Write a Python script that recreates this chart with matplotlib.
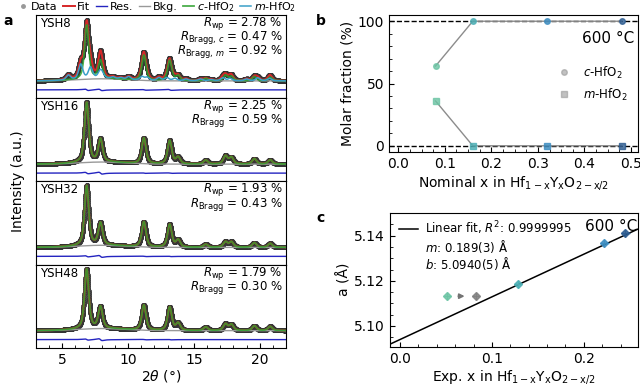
import numpy as np
import matplotlib
matplotlib.use("Agg")
import matplotlib.pyplot as plt
from matplotlib.lines import Line2D
from matplotlib.ticker import MultipleLocator

plt.rcParams['font.family'] = 'DejaVu Sans'
plt.rcParams['mathtext.fontset'] = 'dejavusans'

# ---------------- data ----------------
# panel a: peak lists read from the refined patterns (2theta, height above background)
samples = ['YSH8', 'YSH16', 'YSH32', 'YSH48']
r_texts = [
    [r'$R_{\mathrm{wp}}$ = 2.78 %', r'$R_{\mathrm{Bragg},\,c}$ = 0.47 %', r'$R_{\mathrm{Bragg},\,m}$ = 0.92 %'],
    [r'$R_{\mathrm{wp}}$ = 2.25 %', r'$R_{\mathrm{Bragg}}$ = 0.59 %'],
    [r'$R_{\mathrm{wp}}$ = 1.93 %', r'$R_{\mathrm{Bragg}}$ = 0.43 %'],
    [r'$R_{\mathrm{wp}}$ = 1.79 %', r'$R_{\mathrm{Bragg}}$ = 0.30 %'],
]
cubic_pos = [6.85, 7.90, 11.20, 13.16, 13.80, 15.90, 17.40, 17.85, 19.60, 20.80]
cubic_h = {
    'YSH8':  [0.90, 0.30, 0.42, 0.34, 0.08, 0.04, 0.09, 0.07, 0.07, 0.06],
    'YSH16': [1.00, 0.38, 0.43, 0.39, 0.11, 0.065, 0.135, 0.11, 0.09, 0.07],
    'YSH32': [1.00, 0.37, 0.42, 0.38, 0.12, 0.05, 0.09, 0.09, 0.077, 0.066],
    'YSH48': [1.00, 0.36, 0.42, 0.39, 0.12, 0.06, 0.11, 0.10, 0.08, 0.07],
}
mono_pos = [5.46, 6.40, 7.14, 7.86, 8.02, 8.85, 9.45, 10.05, 11.05, 11.45, 12.35,
            12.95, 13.55, 14.40, 15.50, 16.30, 17.20, 17.75, 19.00, 19.85, 20.75]
mono_h = [0.08, 0.25, 0.19, 0.10, 0.07, 0.03, 0.025, 0.05, 0.06, 0.05, 0.05,
          0.05, 0.04, 0.03, 0.03, 0.02, 0.05, 0.04, 0.03, 0.05, 0.04]
# residual wiggle amplitude at the cubic peaks (derivative-like)
res_amp = {
    'YSH8':  [0.03, 0.03, 0.015, 0.02, 0.0, 0.0, 0.0, 0.0, 0.0, 0.0],
    'YSH16': [0.03, 0.04, 0.01, 0.01, 0.0, 0.0, 0.0, 0.0, 0.0, 0.0],
    'YSH32': [0.025, 0.04, 0.01, 0.01, 0.0, 0.0, 0.0, 0.0, 0.0, 0.0],
    'YSH48': [0.025, 0.04, 0.01, 0.01, 0.0, 0.0, 0.0, 0.0, 0.0, 0.0],
}
fwhm = 0.38
bkg_hump = (8.0, 2.5, 0.035)   # centre, width, height of amorphous background
res_offset = -0.15

# panel b: molar fractions
x_nom = [0.08, 0.16, 0.32, 0.48]
frac_c = [64, 100, 100, 100]
frac_m = [36, 0, 0, 0]
sample_colors = ['#6cc4a4', '#4aaeb4', '#3b8cc0', '#2b5b90']

# panel c: lattice parameter
x_exp = [0.0514, 0.128, 0.2225, 0.245]
a_val = [5.1132, 5.1185, 5.1366, 5.1411]
x_err = [0.004, 0.004, 0.005, 0.005]
a_err = [0.0015, 0.0015, 0.0015, 0.0015]
x_corr = 0.0823
a_corr = 5.1132
fit_m = 0.189
fit_b = 5.0940

# ---------------- figure ----------------
fig = plt.figure(figsize=(6.4, 3.87), dpi=100)

tth = np.arange(3.0, 22.0, 0.01)


def profile(pos, h):
    out = np.zeros_like(tth)
    for p, hh in zip(pos, h):
        g = 2 * (tth - p) / fwhm
        out += hh * (0.6 / (1 + g ** 2) + 0.4 * np.exp(-np.log(2) * g ** 2))
    return out


def dprofile(pos, amp):
    out = np.zeros_like(tth)
    for p, a in zip(pos, amp):
        g = 2 * (tth - p) / fwhm
        out += -a * g / (1 + g ** 2) ** 1.5
    return out


a_left, a_right, a_bot, a_top = 36 / 640, 286 / 640, 1 - 348 / 387, 1 - 15 / 387
ph = (a_top - a_bot) / 4
for i, s in enumerate(samples):
    ax = fig.add_axes([a_left, a_top - (i + 1) * ph, a_right - a_left, ph])
    bkg = bkg_hump[2] * np.exp(-((tth - bkg_hump[0]) / bkg_hump[1]) ** 2)
    c_part = profile(cubic_pos, cubic_h[s])
    if s == 'YSH8':
        m_part = profile(mono_pos, mono_h)
    else:
        m_part = np.zeros_like(tth)
    fit = bkg + c_part + m_part
    res = dprofile(cubic_pos, res_amp[s])
    data = fit + res
    ax.plot(tth, data, 'o', ms=3, mfc='0.3', mec='0.2', mew=0.5, label='Data')
    ax.plot(tth, fit, color='#d62728', lw=1.4, label='Fit')
    ax.plot(tth, res + res_offset, color='#2424c0', lw=1.0, label='Res.')
    ax.plot(tth, bkg, color='0.6', lw=1.0, label='Bkg.')
    ax.plot(tth, bkg + c_part, color='#2ca02c', lw=1.3, alpha=0.85, label=r'$c$-HfO$_2$')
    if s == 'YSH8':
        ax.plot(tth, bkg + m_part, color='#3a9fc8', lw=1.1, label=r'$m$-HfO$_2$')
    else:
        ax.plot([], [], color='#3a9fc8', lw=1.1, label=r'$m$-HfO$_2$')
    ax.set_xlim(3, 22)
    ax.set_ylim(-0.29, 1.10)
    ax.set_yticks([])
    ax.text(0.016, 0.9, s, transform=ax.transAxes, ha='left', va='center', fontsize=8.5)
    for j, t in enumerate(r_texts[i]):
        ax.text(0.987, 0.9 - 0.172 * j, t, transform=ax.transAxes, ha='right', va='center',
                fontsize=8.5)
    if i < 3:
        ax.set_xticks([])
    else:
        ax.xaxis.set_major_locator(MultipleLocator(5))
        ax.xaxis.set_minor_locator(MultipleLocator(1))
        ax.tick_params(axis='x', which='both', direction='in', labelsize=10)
        ax.set_xlabel(r'2$\theta$ (°)', fontsize=10, labelpad=1)
    if i == 0:
        handles, labels = ax.get_legend_handles_labels()
        handles[0] = Line2D([], [], ls='', marker='o', ms=2.5, color='0.6')
        fig.legend(handles, labels, loc='center', bbox_to_anchor=(0.245, 0.982), ncol=6,
                   frameon=False, fontsize=8, handlelength=1.0, handletextpad=0.25,
                   columnspacing=0.5, borderpad=0)

fig.text(0.028, (a_top + a_bot) / 2, 'Intensity (a.u.)', rotation=90, ha='center',
         va='center', fontsize=10)

# ---------------- panel b ----------------
axb = fig.add_axes([389 / 640, 1 - 152 / 387, 249 / 640, 137 / 387])
axb.axhline(100, color='k', ls='--', lw=1, zorder=1)
axb.axhline(0, color='k', ls='--', lw=1, zorder=1)
axb.plot(x_nom, frac_c, color='0.55', lw=1, zorder=2)
axb.plot(x_nom, frac_m, color='0.55', lw=1, zorder=2)
for xv, yc, ym, col in zip(x_nom, frac_c, frac_m, sample_colors):
    axb.plot(xv, yc, 'o', ms=4, mfc=col, mec=col, alpha=0.8, zorder=3)
    axb.plot(xv, ym, 's', ms=4, mfc=col, mec=col, alpha=0.8, zorder=3)
axb.set_xlim(-0.02, 0.515)
axb.set_ylim(-5, 105)
axb.set_yticks([0, 50, 100])
axb.xaxis.set_major_locator(MultipleLocator(0.1))
axb.xaxis.set_minor_locator(MultipleLocator(0.025))
axb.yaxis.set_minor_locator(MultipleLocator(10))
axb.tick_params(which='both', direction='in', labelsize=10)
axb.set_xlabel(r'Nominal x in Hf$_{1-\mathrm{x}}$Y$_\mathrm{x}$O$_{2-\mathrm{x}/2}$', fontsize=10,
               labelpad=2)
axb.set_ylabel('Molar fraction (%)', fontsize=10, labelpad=2)
axb.text(0.985, 0.83, '600 °C', transform=axb.transAxes, ha='right', va='center', fontsize=11)
leg_h = [Line2D([], [], ls='', marker='o', ms=4, color='0.6', alpha=0.6),
         Line2D([], [], ls='', marker='s', ms=4, color='0.6', alpha=0.6)]
axb.legend(leg_h, [r'$c$-HfO$_2$', r'$m$-HfO$_2$'], loc='center right',
           bbox_to_anchor=(1.0, 0.5), frameon=False, fontsize=8.5, handletextpad=0.6)

# ---------------- panel c ----------------
axc = fig.add_axes([390 / 640, 1 - 346.7 / 387, 248 / 640, 134 / 387])
xl = np.array([-0.011, 0.259])
fit_line, = axc.plot(xl, fit_b + fit_m * xl, color='k', lw=1.1, zorder=1)
for xv, av, xe, ae, col in zip(x_exp, a_val, x_err, a_err, sample_colors):
    axc.errorbar(xv, av, xerr=xe, yerr=ae, fmt='D', ms=4, color=col, mec=col,
                 elinewidth=1.0, alpha=0.85, zorder=3)
axc.errorbar(x_corr, a_corr, xerr=x_err[0], yerr=a_err[0], fmt='D', ms=4, color='0.5',
             elinewidth=1.0, alpha=0.85, zorder=3)
axc.annotate('', xy=(x_corr - 0.009, a_corr), xytext=(x_exp[0] + 0.009, a_corr),
             arrowprops=dict(arrowstyle='-|>', color='0.45', lw=1.3, mutation_scale=7))
axc.set_xlim(-0.011, 0.259)
axc.set_ylim(5.0908, 5.1502)
axc.set_yticks([5.10, 5.12, 5.14])
axc.xaxis.set_major_locator(MultipleLocator(0.1))
axc.xaxis.set_minor_locator(MultipleLocator(0.02))
axc.yaxis.set_minor_locator(MultipleLocator(0.005))
axc.tick_params(which='both', direction='in', labelsize=10)
axc.set_xlabel(r'Exp. x in Hf$_{1-\mathrm{x}}$Y$_\mathrm{x}$O$_{2-\mathrm{x}/2}$', fontsize=10,
               labelpad=2)
axc.set_ylabel('a (Å)', fontsize=10, labelpad=2)
axc.text(0.995, 0.9, '600 °C', transform=axc.transAxes, ha='right', va='center', fontsize=11)
blank = Line2D([], [], ls='', marker='')
axc.legend([fit_line, blank, blank],
           [r'Linear fit, $R^2$: 0.9999995', r'$m$: 0.189(3) Å', r'$b$: 5.0940(5) Å'],
           loc='upper left', bbox_to_anchor=(0.0, 1.02), frameon=False, fontsize=8.5,
           handlelength=1.6, handletextpad=0.6, labelspacing=0.05, borderpad=0.3)

# panel letters
fig.text(3 / 640, 1 - 21 / 387, 'a', fontsize=10, fontweight='bold', va='center')
fig.text(316 / 640, 1 - 21 / 387, 'b', fontsize=10, fontweight='bold', va='center')
fig.text(316 / 640, 1 - 218 / 387, 'c', fontsize=10, fontweight='bold', va='center')

fig.savefig('out.png', dpi=100)
